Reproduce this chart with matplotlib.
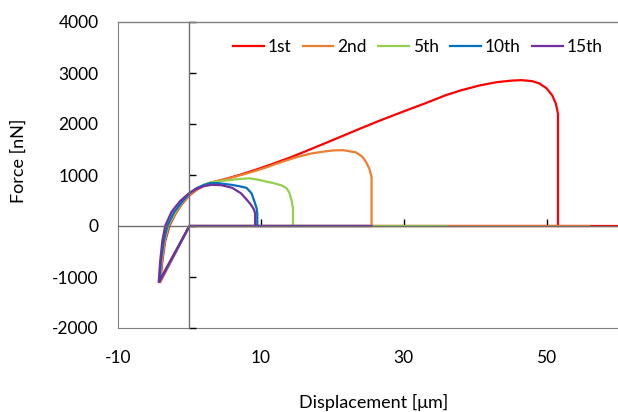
import matplotlib
matplotlib.use("Agg")
import matplotlib.pyplot as plt

plt.rcParams['font.family'] = ['Lato', 'DejaVu Sans']
plt.rcParams['axes.unicode_minus'] = False

# force curves, displacement [um] vs force [nN]
x1 = [60.5, 0, -4.1, -3.8, -3.4, -2.8, -2.0, -1.0, 0.0, 1.0, 2.0, 3.0, 5.0, 7.0, 9.0, 11.2, 14.0, 16.0,
      18.6, 21.0, 23.3, 26.0, 28.0, 30.8, 33.0, 35.9, 38.0, 40.6, 43.0, 45.2, 46.5, 48.0, 49.0, 50.0,
      50.8, 51.3, 51.6, 51.6]
y1 = [0, 0, -1100, -700, -300, 0, 230, 440, 600, 710, 790, 850, 920, 1000, 1090, 1195, 1338, 1450,
      1600, 1740, 1875, 2030, 2140, 2290, 2405, 2565, 2660, 2755, 2820, 2852, 2860, 2840, 2795, 2700,
      2560, 2400, 2200, 0]

x2 = [56, 0, -4.1, -3.85, -3.45, -2.9, -2.0, -1.0, 0.0, 1.0, 2.0, 3.0, 5.0, 7.0, 9.0, 11.0, 13.0,
      15.0, 17.0, 18.6, 20.0, 21.5, 23.3, 24.2, 24.7, 25.2, 25.5, 25.5]
y2 = [0, 0, -1090, -700, -300, 0, 240, 450, 610, 720, 800, 855, 915, 990, 1070, 1160, 1260,
      1350, 1420, 1455, 1480, 1488, 1443, 1360, 1260, 1120, 960, 0]

x5 = [36, 0, -4.2, -3.95, -3.55, -3.0, -2.1, -1.0, 0.0, 1.0, 2.0, 3.0, 4.7, 6.5, 8.4, 9.8, 10.8,
      11.7, 13.0, 13.6, 14.0, 14.3, 14.5, 14.5]
y5 = [0, 0, -1080, -700, -300, 0, 250, 470, 630, 740, 810, 855, 885, 915, 936, 903, 870,
      844, 792, 740, 650, 500, 350, 0]

x10 = [25, 0, -4.2, -4.0, -3.6, -3.1, -2.2, -1.0, 0.0, 1.0, 2.0, 2.8, 4.0, 6.0, 7.0, 8.0, 8.7,
       9.1, 9.4, 9.5, 9.5]
y10 = [0, 0, -1090, -700, -300, 0, 260, 480, 640, 740, 800, 838, 840, 805, 780, 747, 640,
       480, 350, 250, 0]

x15 = [25.5, 0, -4.3, -4.1, -3.8, -3.4, -2.5, -1.3, 0.0, 1.0, 2.0, 3.1, 4.5, 6.0, 7.2, 8.0, 8.6,
       9.0, 9.2, 9.2]
y15 = [0, 0, -1100, -700, -300, 0, 280, 490, 650, 730, 780, 808, 800, 747, 643, 520, 420,
       330, 250, 0]

labels = ["1st", "2nd", "5th", "10th", "15th"]
colors = ["#FF0000", "#ED7D31", "#92D050", "#0070C0", "#7030A0"]
series = [(x1, y1), (x2, y2), (x5, y5), (x10, y10), (x15, y15)]

xticks = [-10, 10, 30, 50]
yticks = [-2000, -1000, 0, 1000, 2000, 3000, 4000]

fig = plt.figure(figsize=(6.18, 4.12), dpi=100)
ax = fig.add_axes([118/618, 1 - 328/412, 1 - 118/618, 306/412])

for (xs, ys), lab, c in zip(series, labels, colors):
    ax.plot(xs, ys, color=c, lw=1.6, label=lab, solid_joinstyle='round')

ax.set_xlim(-10, 60)
ax.set_ylim(-2000, 4000)

grey = '#808080'
# axis lines crossing at zero
ax.spines['left'].set_position(('data', 0))
ax.spines['bottom'].set_position(('data', 0))
ax.spines['left'].set_color('#6e6e6e')
ax.spines['bottom'].set_color('#6e6e6e')
ax.spines['top'].set_color(grey)
ax.spines['right'].set_visible(False)
for s in ax.spines.values():
    s.set_linewidth(1.0)
ax.set_xticks(xticks[1:])
ax.set_yticks(yticks)
ax.tick_params(axis='both', direction='in', length=5, width=1.0, color='black',
               labelbottom=False, labelleft=False)

# frame with labels at low position
secx = ax.secondary_xaxis('bottom')
secx.set_xticks(xticks)
secx.tick_params(length=0, pad=16, labelsize=12.5)
secx.spines['bottom'].set_color(grey)
secy = ax.secondary_yaxis('left')
secy.set_yticks(yticks)
secy.tick_params(length=0, pad=14, labelsize=12.5)
secy.spines['left'].set_color(grey)

fig.text(19/618, 1 - 161/412, "Force [nN]", rotation=90, ha='center', va='center', fontsize=13)
fig.text(374/618, 1 - 402/412, "Displacement [μm]", ha='center', va='center', fontsize=13)

ax.legend(loc='center', bbox_to_anchor=(0.6, 0.918), ncol=5, frameon=False, fontsize=12.5,
          handlelength=1.75, handletextpad=0.25, columnspacing=0.65, borderaxespad=0)

fig.savefig("out.png", dpi=100)
